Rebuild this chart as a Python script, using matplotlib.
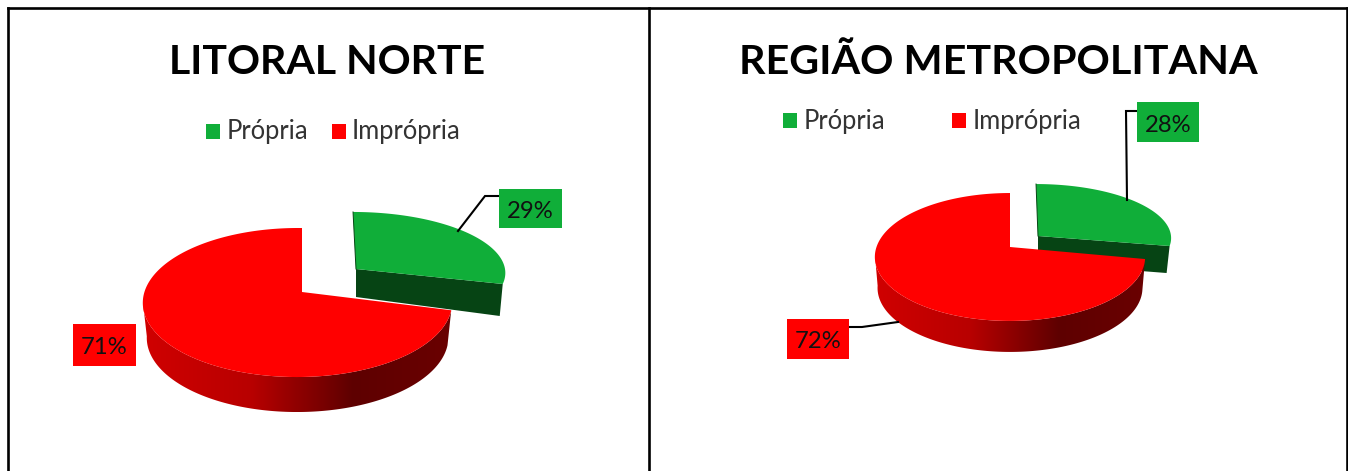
#!/usr/bin/env python

import numpy as np
import matplotlib
matplotlib.use('Agg')
import matplotlib.pyplot as plt
from matplotlib.colors import LinearSegmentedColormap
from matplotlib.patches import Polygon, Rectangle

categories = ['Própria', 'Imprópria']
titles = ['LITORAL NORTE', 'REGIÃO METROPOLITANA']
litoral_values = [29, 71]
metro_values = [28, 72]

GREEN = '#10AE39'
DARK_GREEN = '#064414'
RED = '#FF0000'
wall_cmap = LinearSegmentedColormap.from_list(
    'wall', [(0.0, '#D00000'), (0.35, '#B80000'), (0.68, '#5E0000'), (1.0, '#6A0000')])


def project(t, apex, R, Rb, p, r=0.0, q=0.0, drop=0.0, scale=1.0):
    """
    pie angle (clockwise from the back) to pixels, a circle seen in perspective
    """
    w = 1 + p * np.cos(t) + r * np.sin(t)
    x = apex[0] + scale * (R * np.sin(t) + q * np.cos(t)) / w
    y = apex[1] + drop - Rb * np.cos(t) / w
    return np.column_stack([x, y])


def draw_pie(ax, values, g):
    split = 2 * np.pi * values[0] / sum(values)

    # pulled out green slice, front wall first
    green = g['green']
    corner = project(np.array([split]), **green['shape'])[0]
    apex = np.array(green['shape']['apex'], dtype=float)
    low = green['low']
    ax.add_patch(Polygon([apex, corner, corner + low[1], apex + low[0]],
                         fc=DARK_GREEN, ec='none', zorder=2))
    arc = project(np.linspace(0, split, 120), **green['shape'])
    ax.add_patch(Polygon(np.vstack([apex, arc]), fc=GREEN, ec='none', zorder=3))
    ax.plot([arc[0][0], apex[0]], [arc[0][1], apex[1]], color=DARK_GREEN, lw=0.7, zorder=3)

    # red slice wall with the horizontal shading
    red = g['red']
    t_wall = np.linspace(split, g['wall_end'] * np.pi / 180, 200)
    top = project(t_wall, **red)
    bottom = project(t_wall, drop=g['depth'], scale=g['wall_scale'], **red)
    outline = np.vstack([top, bottom[::-1]])
    clip = Polygon(outline, fc='none', ec='none', transform=ax.transData)
    ax.add_patch(clip)
    x0, x1 = outline[:, 0].min(), outline[:, 0].max()
    y0, y1 = outline[:, 1].min(), outline[:, 1].max()
    img = ax.imshow(np.linspace(0, 1, 256).reshape(1, -1), cmap=wall_cmap, vmin=0, vmax=1,
                    extent=(x0, x1, y1, y0), aspect='auto', zorder=4)
    img.set_clip_path(clip)

    arc = project(np.linspace(split, 2 * np.pi, 300), **red)
    ax.add_patch(Polygon(np.vstack([red['apex'], arc]), fc=RED, ec='none', zorder=5))

    # leader lines and value boxes
    for pts in g['leaders']:
        ax.plot(pts[0], pts[1], color='black', lw=1.5, zorder=6, solid_joinstyle='miter')
    for val, clr, box in zip(values, [GREEN, RED], g['boxes']):
        ax.add_patch(Rectangle((box[0], box[1]), box[2], box[3], fc=clr, ec='none', zorder=7))
        ax.text(box[0] + box[2] / 2.0, box[1] + box[3] / 2.0 + 3, '%d%%' % val, ha='center',
                va='center', fontsize=17.2, family='Lato', color='#111111', zorder=8)


def draw_head(ax, title, g):
    ax.text(g['title_x'], g['title_y'], title, ha='center', va='center', fontsize=g['title_size'],
            family='Lato', fontweight='bold', color='black')
    for name, clr, sq_x, txt_x in zip(categories, [GREEN, RED], g['square_x'], g['text_x']):
        ax.add_patch(Rectangle((sq_x, g['legend_y'] - 7.5), 14, 15, fc=clr, ec='none'))
        ax.text(txt_x, g['legend_y'] + 1, name, ha='left', va='center', fontsize=18.4,
                family='Lato', color='#333333')


left = dict(
    title_x=327, title_y=62, title_size=29.5, legend_y=131,
    square_x=[206, 332], text_x=[227, 352],
    red=dict(apex=(302, 292), R=153, Rb=73, p=0.141, r=0.029),
    green=dict(shape=dict(apex=(356, 269), R=149, Rb=59.6, p=0.045, q=-3.1),
               low=[(0, 28), (-3, 32)]),
    depth=35, wall_scale=0.975, wall_end=263,
    leaders=[([458, 485, 499], [231, 196, 196])],
    boxes=[(499, 189, 63, 39), (73, 324, 63, 42)],
)
right = dict(
    title_x=998.5, title_y=62, title_size=29.7, legend_y=120,
    square_x=[783, 952], text_x=[804, 973],
    red=dict(apex=(1010, 247), R=133.5, Rb=62.4, p=0.156),
    green=dict(shape=dict(apex=(1038, 236), R=133, Rb=53.2, p=0.024, q=-2),
               low=[(0, 27), (-3, 27)]),
    depth=31, wall_scale=0.98, wall_end=263,
    leaders=[([1127, 1126, 1137], [200, 111, 111]), ([898, 862, 849], [322, 327, 327])],
    boxes=[(1137, 102, 62, 40), (787, 319, 62, 40)],
)


def main():
    fig = plt.figure(figsize=(13.48, 4.71), dpi=100)
    ax = fig.add_axes([0, 0, 1, 1])
    ax.set_xlim(0, 1348)
    ax.set_ylim(471, 0)
    ax.axis('off')

    # table frame around the two charts
    for xs, ys in [([8, 8], [8, 471]), ([8, 1347], [8, 8]), ([649, 649], [8, 471]), ([1347, 1347], [8, 471])]:
        ax.plot(xs, ys, color='black', lw=1.9, solid_capstyle='projecting', zorder=1)

    draw_head(ax, titles[0], left)
    draw_head(ax, titles[1], right)
    draw_pie(ax, litoral_values, left)
    draw_pie(ax, metro_values, right)

    ax.set_xlim(0, 1348)
    ax.set_ylim(471, 0)
    fig.savefig('out.png', dpi=100)


if __name__ == '__main__':
    main()
